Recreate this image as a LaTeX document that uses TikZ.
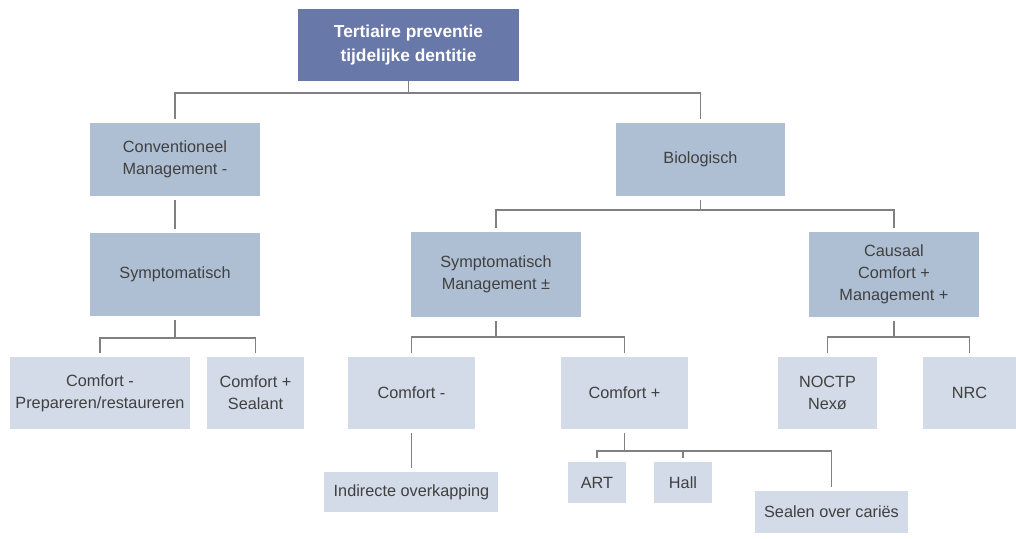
\documentclass[tikz,border=0pt]{standalone}
\usepackage{fontspec}
\setmainfont{Liberation Sans}
\usetikzlibrary{positioning}

\definecolor{headblue}{HTML}{6878A8}
\definecolor{midblue}{HTML}{AEBFD4}
\definecolor{leafblue}{HTML}{D2DBE7}
\definecolor{txtgray}{HTML}{404040}
\definecolor{linegray}{HTML}{808080}

\begin{document}
\begin{tikzpicture}[x=0.75pt,y=-0.75pt,
        box/.style={align=center, inner sep=1pt, text=txtgray, outer sep=3pt,
            font=\fontsize{12.2}{16.3}\selectfont},
        headbox/.style={box, fill=headblue, text=white, outer sep=0pt,
            font=\bfseries\fontsize{13}{18.5}\selectfont},
        midbox/.style={box, fill=midblue},
        leafbox/.style={box, fill=leafblue},
        link/.style={draw=linegray, line width=1.1pt}]
    \fill[white] (0,0) rectangle (1016,539);

    % levels 1 and 2
    \node[headbox, minimum width=165.8pt, minimum height=54pt] (top) at (408.5,45) {Tertiaire preventie\\tijdelijke dentitie};
    \node[midbox, minimum width=127.5pt, minimum height=54.8pt] (conv) at (175,159.5) {Conventioneel\\Management -};
    \node[midbox, minimum width=126.8pt, minimum height=54.8pt] (bio) at (700.5,159.5) {Biologisch};

    % level 3
    \node[midbox, minimum width=127.5pt, minimum height=62.3pt] (symL) at (175,274.5) {Symptomatisch};
    \node[midbox, minimum width=127.5pt, minimum height=63.8pt] (symM) at (496,274.5) {Symptomatisch\\Management ±};
    \node[midbox, minimum width=127.5pt, minimum height=63.8pt] (caus) at (894,274.5) {Causaal\\Comfort +\\Management +};

    % level 4
    \node[leafbox, minimum width=135pt, minimum height=54pt] (prep) at (100,393) {Comfort -\\Prepareren/restaureren};
    \node[leafbox, minimum width=72.8pt, minimum height=54pt] (seal) at (255.5,393) {Comfort +\\Sealant};
    \node[leafbox, minimum width=95.3pt, minimum height=54pt] (cmin) at (411.5,393) {Comfort -};
    \node[leafbox, minimum width=95.3pt, minimum height=54pt] (cplus) at (624.5,393) {Comfort +};
    \node[leafbox, minimum width=74.3pt, minimum height=54pt] (noctp) at (827.5,393) {NOCTP\\Nexø};
    \node[leafbox, minimum width=69.8pt, minimum height=54pt] (nrc) at (969.5,393) {NRC};

    % level 5
    \node[leafbox, minimum width=130.5pt, minimum height=30pt] (indir) at (411.5,492) {Indirecte overkapping};
    \node[leafbox, minimum width=43.5pt, minimum height=30.8pt] (art) at (597,482.5) {ART};
    \node[leafbox, minimum width=43.5pt, minimum height=30.8pt] (hall) at (683,482.5) {Hall};
    \node[leafbox, minimum width=114.8pt, minimum height=31.5pt] (sealc) at (831.5,512) {Sealen over cariës};

    % connectors
    \foreach \c in {conv,bio}
        \draw[link] (top.south) -- ++(0,12) -| (\c.north);
    \draw[link] (conv) -- (symL);
    \foreach \c in {prep,seal}
        \draw[link] (symL.south) -- ++(0,18) -| (\c.north);
    \foreach \c in {symM,caus}
        \draw[link] (bio.south) -- ++(0,10) -| (\c.north);
    \foreach \c in {cmin,cplus}
        \draw[link] (symM.south) -- ++(0,16) -| (\c.north);
    \foreach \c in {noctp,nrc}
        \draw[link] (caus.south) -- ++(0,16) -| (\c.north);
    \draw[link] (cmin) -- (indir);
    \foreach \c in {art,hall,sealc}
        \draw[link] (cplus.south) -- ++(0,18) -| (\c.north);
\end{tikzpicture}
\end{document}
